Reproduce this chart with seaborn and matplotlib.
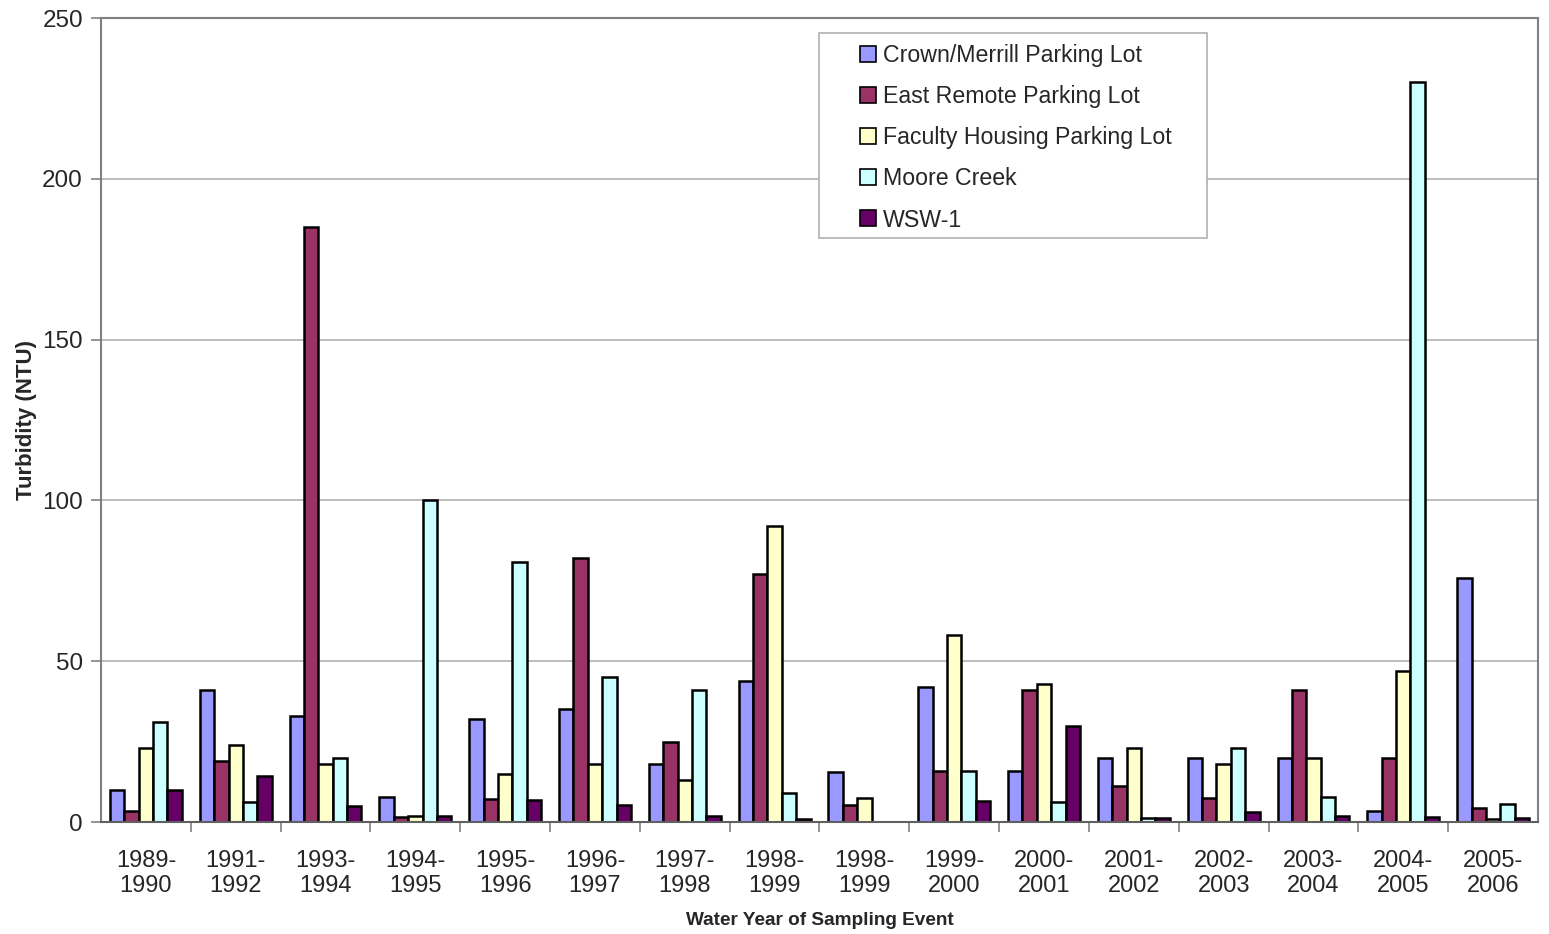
import matplotlib
matplotlib.use("Agg")
import matplotlib.pyplot as plt
from matplotlib.patches import Rectangle
import seaborn as sns
import pandas as pd
import numpy as np

# Water years of each sampling event (1998-1999 was sampled twice)
events = ["1989-\n1990", "1991-\n1992", "1993-\n1994", "1994-\n1995", "1995-\n1996",
          "1996-\n1997", "1997-\n1998", "1998-\n1999", "1998-\n1999", "1999-\n2000",
          "2000-\n2001", "2001-\n2002", "2002-\n2003", "2003-\n2004", "2004-\n2005",
          "2005-\n2006"]

sites = ["Crown/Merrill Parking Lot", "East Remote Parking Lot",
         "Faculty Housing Parking Lot", "Moore Creek", "WSW-1"]

# Turbidity (NTU) per site and event
crown_merrill = [10, 41, 33, 7.7, 32, 35, 18, 44, 15.5, 42, 16, 20, 20, 20, 3.5, 76]
east_remote = [3.5, 19, 185, 1.5, 7.3, 82, 25, 77, 5.2, 16, 41, 11.2, 7.4, 41, 20, 4.5]
faculty_housing = [23, 24, 18, 1.9, 15, 18, 13, 92, 7.4, 58, 43, 23, 18, 20, 47, 1]
moore_creek = [31, 6.2, 20, 100, 81, 45, 41, 9, 0, 16, 6.2, 1.2, 23, 7.7, 230, 5.5]
wsw_1 = [10, 14.2, 4.9, 2, 6.7, 5.2, 2, 0.8, 0, 6.6, 30, 1.2, 3.1, 2, 1.5, 1.3]

colors = ["#9999FF", "#993366", "#FFFFCC", "#CCFFFF", "#660066"]

series = [crown_merrill, east_remote, faculty_housing, moore_creek, wsw_1]
rows = []
for site, vals in zip(sites, series):
    for i, v in enumerate(vals):
        rows.append({"event": i, "site": site, "turbidity": v})
df = pd.DataFrame(rows)

sns.set_theme(style="white")
plt.rcParams["font.family"] = ["Liberation Sans", "DejaVu Sans"]

fig = plt.figure(figsize=(15.49, 9.34), dpi=100)
ax = fig.add_axes([0.0652, 0.1199, 0.9277, 0.8608])

sns.barplot(data=df, x="event", y="turbidity", hue="site", hue_order=sites,
            order=list(range(len(events))), palette=colors, width=0.8,
            edgecolor="black", linewidth=1.8, saturation=1, errorbar=None, ax=ax)

ax.set_ylim(0, 250)
ax.set_xlim(-0.5, len(events) - 0.5)
ax.set_yticks([0, 50, 100, 150, 200, 250])
ax.set_yticklabels(["0", "50", "100", "150", "200", "250"], fontsize=17.5)
ax.yaxis.grid(True, color="#b0b0b0", linewidth=1.2)
ax.set_axisbelow(True)

ax.set_xticks(range(len(events)))
ax.set_xticklabels(events, fontsize=17, linespacing=1.2)
ax.tick_params(axis="x", which="major", length=0, pad=20)
ax.set_xticks(np.arange(0.5, len(events) - 0.5, 1.0), minor=True)
ax.tick_params(axis="x", which="minor", length=7, width=1.2, color="#808080", direction="out",
               bottom=True)
ax.tick_params(axis="y", length=7, width=1.2, color="#808080", direction="out", left=True, pad=6)

for side in ["left", "right", "top", "bottom"]:
    ax.spines[side].set_visible(True)
    ax.spines[side].set_color("#808080")
    ax.spines[side].set_linewidth(1.5)
ax.spines["bottom"].set_color("#606060")

ax.set_xlabel("Water Year of Sampling Event", fontsize=13.7, fontweight="bold", labelpad=11)
ax.set_ylabel("Turbidity (NTU)", fontsize=16, fontweight="bold", labelpad=4)

# Legend frame drawn as a plain box, entries placed inside it
ax.add_patch(Rectangle((0.4997, 0.7264), 0.2700, 0.2549, transform=ax.transAxes,
                       facecolor="white", edgecolor="#b0b0b0", linewidth=1.2, zorder=5))
leg = ax.legend(loc="upper left", bbox_to_anchor=(0.5282, 0.9675), fontsize=16.7,
                frameon=False, borderpad=0, borderaxespad=0,
                handlelength=0.68, handleheight=0.68, handletextpad=0.3,
                labelspacing=0.78, title=None)
leg.set_zorder(6)
for h in leg.legend_handles:
    h.set_edgecolor("black")
    h.set_linewidth(1.2)

fig.savefig("out.png", dpi=100)
